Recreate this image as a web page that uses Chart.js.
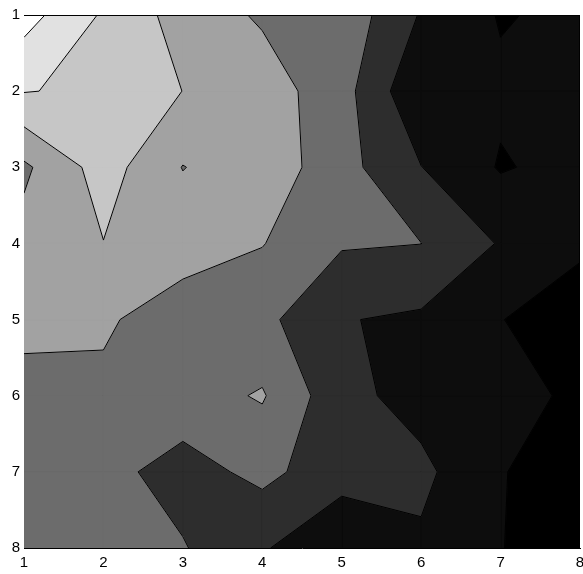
<!DOCTYPE html>
<html>
<head>
<meta charset="utf-8">
<script src="https://cdn.jsdelivr.net/npm/chart.js@4.4.1/dist/chart.umd.min.js"></script>
<style>
html,body{margin:0;padding:0;background:#ffffff;}
#wrap{width:583px;height:574px;}
</style>
</head>
<body>
<div id="wrap"><canvas id="c" width="583" height="574"></canvas></div>
<script>
// ---- data ----
const xGrid = [1, 2, 3, 4, 5, 6, 7, 8];
const yGrid = [1, 2, 3, 4, 5, 6, 7, 8];
// z values on the grid, one row per y (y = 1 at the top)
const zRow1 = [7.40, 5.88, 4.58, 3.87, 3.67, 1.92, 0.93, 1.22];
const zRow2 = [6.04, 5.83, 4.99, 4.50, 3.39, 1.12, 1.17, 1.40];
const zRow3 = [3.82, 5.44, 3.97, 4.64, 3.36, 2.02, 0.92, 1.32];
const zRow4 = [4.35, 4.98, 4.60, 4.04, 3.10, 3.01, 1.92, 1.19];
const zRow5 = [4.30, 4.18, 3.32, 3.27, 2.05, 1.84, 1.03, 0.43];
const zRow6 = [3.63, 3.73, 3.60, 4.09, 2.31, 1.62, 1.50, 0.73];
const zRow7 = [3.50, 3.31, 2.60, 3.27, 2.40, 2.23, 1.10, 0.00];
const zRow8 = [3.40, 3.30, 3.07, 2.10, 1.15, 1.84, 1.05, 0.05];
const contourLevels = [1, 2, 3, 4, 5, 6, 7];
const bandColors = ['#000000', '#0d0d0d', '#2d2d2d', '#6c6c6c', '#a2a2a2', '#c6c6c6', '#e1e1e1', '#ffffff'];
const xTickLabels = ['1', '2', '3', '4', '5', '6', '7', '8'];
const yTickLabels = ['1', '2', '3', '4', '5', '6', '7', '8'];

const Z = [zRow1, zRow2, zRow3, zRow4, zRow5, zRow6, zRow7, zRow8];

// ---- marching squares (filled bands + contour lines) ----
function corners(i, j) {
  return [
    {x: xGrid[i],     y: yGrid[j],     v: Z[j][i]},
    {x: xGrid[i + 1], y: yGrid[j],     v: Z[j][i + 1]},
    {x: xGrid[i + 1], y: yGrid[j + 1], v: Z[j + 1][i + 1]},
    {x: xGrid[i],     y: yGrid[j + 1], v: Z[j + 1][i]}
  ];
}
function cross(a, b, L) {
  const t = (L - a.v) / (b.v - a.v);
  return {x: a.x + t * (b.x - a.x), y: a.y + t * (b.y - a.y)};
}
function abovePolys(c, L) {
  const ab = c.map(p => p.v >= L);
  const n = ab.filter(Boolean).length;
  if (n === 0) return [];
  if (n === 2 && ab[0] === ab[2]) {
    const center = (c[0].v + c[1].v + c[2].v + c[3].v) / 4;
    if (center < L) {
      const polys = [];
      for (let k = 0; k < 4; k++) {
        if (ab[k]) {
          const prev = c[(k + 3) % 4], next = c[(k + 1) % 4];
          polys.push([cross(prev, c[k], L), {x: c[k].x, y: c[k].y}, cross(c[k], next, L)]);
        }
      }
      return polys;
    }
  }
  const poly = [];
  for (let k = 0; k < 4; k++) {
    const a = c[k], b = c[(k + 1) % 4];
    if (ab[k]) poly.push({x: a.x, y: a.y});
    if (ab[k] !== ab[(k + 1) % 4]) poly.push(cross(a, b, L));
  }
  return [poly];
}
function contourSegs(c, L) {
  const ab = c.map(p => p.v >= L);
  const edges = [];
  for (let k = 0; k < 4; k++) {
    if (ab[k] !== ab[(k + 1) % 4]) edges.push(cross(c[k], c[(k + 1) % 4], L));
  }
  if (edges.length === 2) return [[edges[0], edges[1]]];
  if (edges.length === 4) {
    const center = (c[0].v + c[1].v + c[2].v + c[3].v) / 4;
    const centerAbove = center >= L;
    const iso = [0, 1, 2, 3].filter(k => ab[k] !== centerAbove);
    return iso.map(k => [edges[(k + 3) % 4], edges[k]]);
  }
  return [];
}

const GAP = {x: null, y: null};
const datasets = [];
// band 0: whole field
datasets.push({
  data: [{x: xGrid[0], y: yGrid[0]}, {x: xGrid[7], y: yGrid[0]}, {x: xGrid[7], y: yGrid[7]}, {x: xGrid[0], y: yGrid[7]}, {x: xGrid[0], y: yGrid[0]}],
  backgroundColor: bandColors[0], borderColor: bandColors[0], borderWidth: 1, fill: 'shape', order: 50
});
contourLevels.forEach((L, li) => {
  const pts = [];
  for (let j = 0; j < yGrid.length - 1; j++) {
    for (let i = 0; i < xGrid.length - 1; i++) {
      abovePolys(corners(i, j), L).forEach(poly => {
        poly.forEach(p => pts.push(p));
        pts.push({x: poly[0].x, y: poly[0].y});
        pts.push(GAP);
      });
    }
  }
  datasets.push({
    data: pts, backgroundColor: bandColors[li + 1], borderColor: bandColors[li + 1],
    borderWidth: 1, fill: 'shape', order: 40 - li
  });
});
// contour lines
const linePts = [];
contourLevels.forEach(L => {
  for (let j = 0; j < yGrid.length - 1; j++) {
    for (let i = 0; i < xGrid.length - 1; i++) {
      contourSegs(corners(i, j), L).forEach(s => { linePts.push(s[0], s[1], GAP); });
    }
  }
});
datasets.push({data: linePts, borderColor: '#000000', borderWidth: 1, fill: false, order: 0});

datasets.forEach(d => {
  d.showLine = true; d.pointRadius = 0; d.pointHoverRadius = 0; d.tension = 0;
  d.spanGaps = false; d.borderJoinStyle = 'round';
});

const frame = {
  id: 'frame',
  afterDatasetsDraw(chart) {
    const {ctx, chartArea: a} = chart;
    ctx.save();
    ctx.strokeStyle = '#000';
    ctx.lineWidth = 1;
    ctx.beginPath();
    ctx.moveTo(a.left, a.top + 0.5); ctx.lineTo(a.right, a.top + 0.5);
    ctx.moveTo(a.right - 0.5, a.top); ctx.lineTo(a.right - 0.5, a.bottom);
    ctx.stroke();
    ctx.restore();
  }
};

const tickFont = {family: "'Liberation Sans', Arial, sans-serif", size: 15};
new Chart(document.getElementById('c'), {
  type: 'scatter',
  data: {datasets},
  options: {
    responsive: false, animation: false, devicePixelRatio: 1, events: [],
    layout: {padding: {top: 15, right: 3, left: 0, bottom: 0}},
    plugins: {legend: {display: false}, tooltip: {enabled: false}},
    scales: {
      x: {
        type: 'linear', min: 1, max: 8, position: 'bottom',
        ticks: {stepSize: 1, color: '#000', font: tickFont, padding: 6, maxRotation: 0,
                callback: v => xTickLabels[v - 1] ?? ''},
        grid: {display: false, drawTicks: false},
        border: {display: true, color: '#000', width: 1},
        afterFit: s => { s.height = 26; s.paddingLeft = 0; s.paddingRight = 0; }
      },
      y: {
        type: 'linear', min: 1, max: 8, reverse: true,
        ticks: {stepSize: 1, color: '#000', font: tickFont, padding: 4,
                callback: v => yTickLabels[v - 1] ?? ''},
        grid: {display: false, drawTicks: false},
        border: {display: true, color: '#000', width: 1},
        afterFit: s => { s.width = 24; s.paddingTop = 0; s.paddingBottom = 0; }
      }
    }
  },
  plugins: [frame]
});
</script>
</body>
</html>
